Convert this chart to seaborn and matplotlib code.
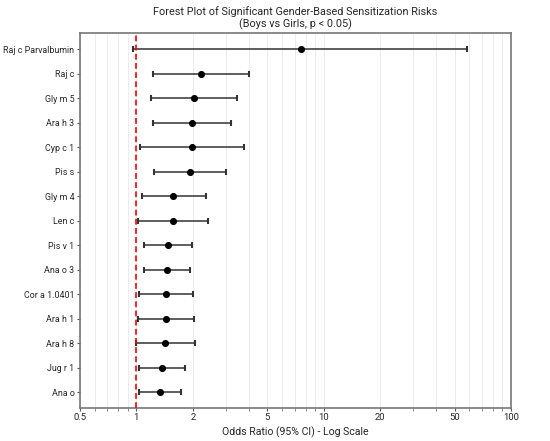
import matplotlib
matplotlib.use("Agg")
import matplotlib.pyplot as plt
import matplotlib.ticker as mticker
import pandas as pd
import seaborn as sns

# Data
labels = ['Raj c Parvalbumin', 'Raj c', 'Gly m 5', 'Ara h 3', 'Cyp c 1', 'Pis s',
          'Gly m 4', 'Len c', 'Pis v 1', 'Ana o 3', 'Cor a 1.0401', 'Ara h 1',
          'Ara h 8', 'Jug r 1', 'Ana o']
odds_ratio = [7.57, 2.20, 2.03, 1.97, 1.97, 1.93, 1.57, 1.56, 1.475, 1.45, 1.434, 1.434,
              1.42, 1.365, 1.337]
ci_low = [0.963, 1.22, 1.20, 1.227, 1.045, 1.242, 1.07, 1.02, 1.10, 1.103, 1.033, 1.02,
          1.00, 1.037, 1.037]
ci_high = [58.5, 4.01, 3.46, 3.19, 3.75, 3.01, 2.34, 2.40, 1.99, 1.925, 2.01, 2.02,
           2.05, 1.82, 1.74]
x_ticks = [0.5, 1, 2, 5, 10, 20, 50, 100]

df = pd.DataFrame({'label': labels, 'or': odds_ratio, 'lo': ci_low, 'hi': ci_high})
df['pos'] = range(len(df))

sns.set_style('white')
plt.rcParams['font.family'] = ['Roboto', 'DejaVu Sans']

fig = plt.figure(figsize=(5.5, 4.41), dpi=100)
ax = fig.add_axes([0.1455, 0.075, 0.7835, 0.85])

# barras de erro (IC 95%)
ax.errorbar(df['or'], df['pos'],
            xerr=[df['or'] - df['lo'], df['hi'] - df['or']],
            fmt='none', ecolor='#333333', elinewidth=1.1, capsize=2.4, capthick=1.5, zorder=2)

sns.scatterplot(data=df, x='or', y='pos', color='black', s=26, edgecolor='black',
                linewidth=0, zorder=3, ax=ax)

ax.axvline(1, color='red', linestyle=(0, (3.5, 2)), linewidth=1.2, zorder=4)

ax.set_xscale('log')
ax.set_xlim(0.5, 100)
ax.set_ylim(len(df) - 0.35, -0.65)
ax.set_xticks(x_ticks)
ax.xaxis.set_major_formatter(mticker.FuncFormatter(lambda v, p: f'{v:g}'))
ax.xaxis.set_minor_formatter(mticker.NullFormatter())
ax.set_yticks(df['pos'])
ax.set_yticklabels(df['label'])

ax.grid(True, which='both', axis='x', color='#ececec', linewidth=0.7)
ax.set_axisbelow(True)

ax.tick_params(axis='y', which='major', labelsize=6.4)
ax.tick_params(axis='x', which='major', labelsize=6.8)
ax.tick_params(axis='both', which='major', length=2.5, width=0.8, pad=1.5,
               color='#555555', direction='out', bottom=True, left=True)
ax.tick_params(axis='x', which='minor', length=1.8, width=0.6, color='#777777', bottom=True)

for spine in ax.spines.values():
    spine.set_color('#777777')
    spine.set_linewidth(1.2)

ax.set_xlabel('Odds Ratio (95% CI) - Log Scale', fontsize=7.6, labelpad=3)
ax.set_ylabel('')
ax.set_title('Forest Plot of Significant Gender-Based Sensitization Risks\n(Boys vs Girls, p < 0.05)',
             fontsize=7.8, pad=4, linespacing=1.15)

fig.savefig('out.png', dpi=100)
